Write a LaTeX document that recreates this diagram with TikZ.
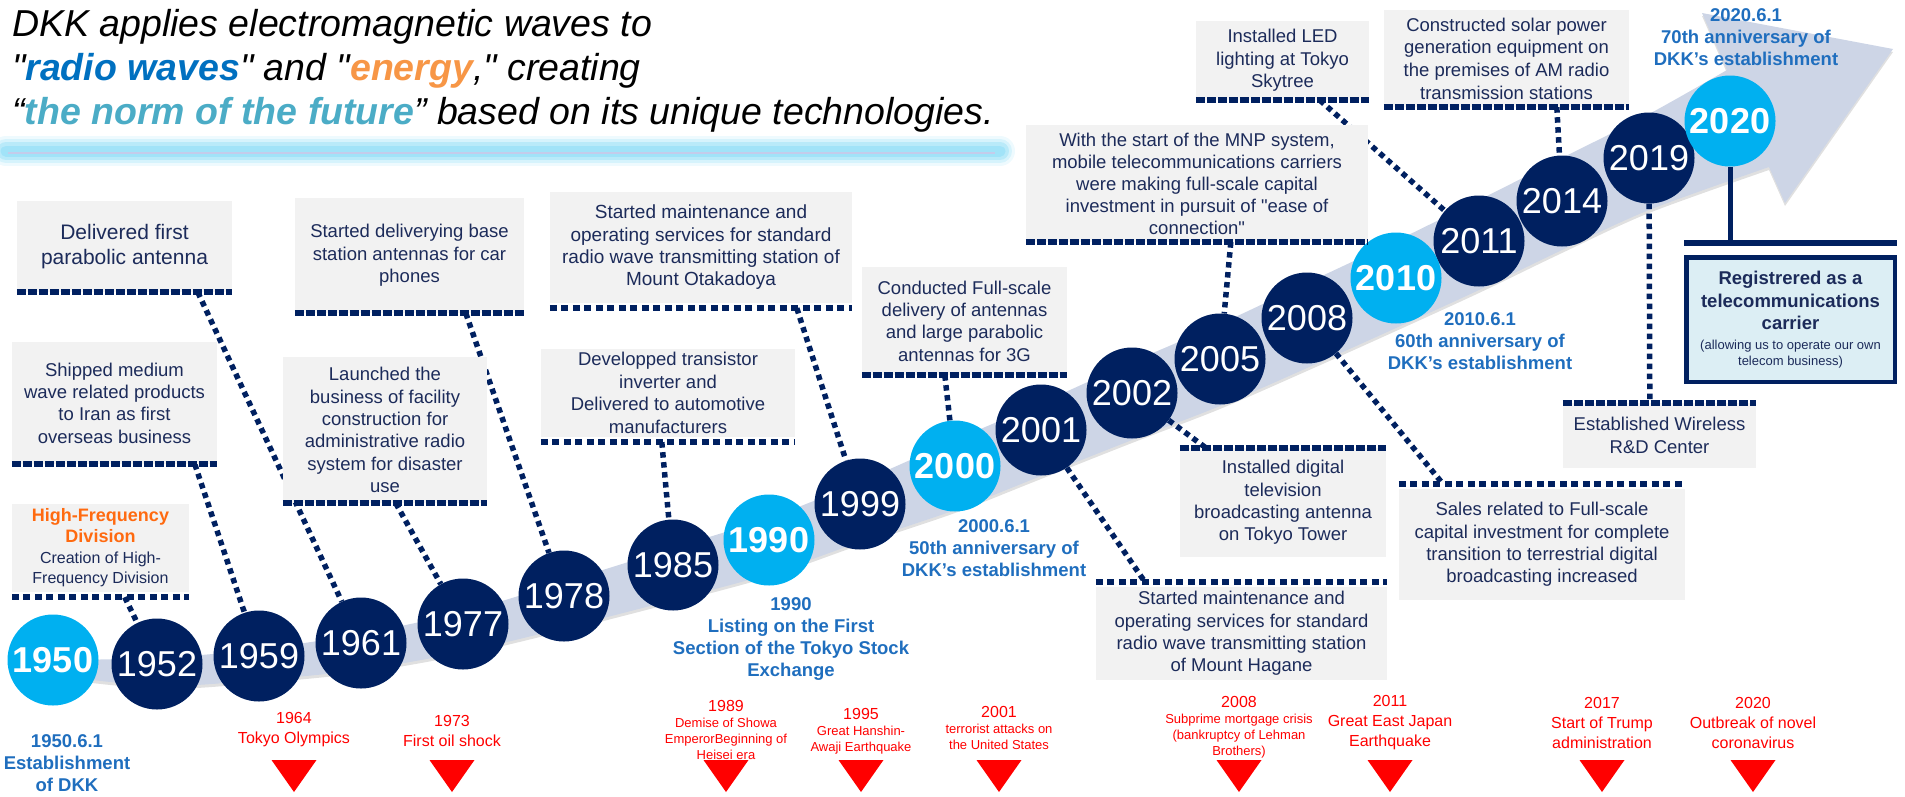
\documentclass[tikz,border=0pt]{standalone}
\usepackage{fontspec}
\setmainfont{Liberation Sans}
\usepackage{xcolor}

\definecolor{navy}{HTML}{002060}
\definecolor{sky}{HTML}{00B0F0}
\definecolor{boxgray}{HTML}{F2F2F2}
\definecolor{boxtext}{HTML}{1C2B5A}
\definecolor{bandgray}{HTML}{CDD5E6}
\definecolor{annblue}{HTML}{1F6EBE}
\definecolor{hforange}{HTML}{FF6A10}
\definecolor{titleblue}{HTML}{0070C0}
\definecolor{titleorange}{HTML}{F79646}
\definecolor{titleteal}{HTML}{4BACC6}
\definecolor{regfill}{HTML}{DCEEF4}
\definecolor{glow}{HTML}{8EDDF6}
\definecolor{glowline}{HTML}{C4CCEA}

\pgfdeclarelayer{back}
\pgfsetlayers{back,main}

% outline of the big curved arrow behind the years
\newcommand{\bandoutline}{plot[smooth] coordinates {(50,660) (160,658) (260,649) (360,634) (463,612) (564,582) (673,548) (769,518) (860,482) (955,440) (1041,403) (1132,362) (1220,324) (1307,283) (1396,241) (1479,200) (1562,158) (1649,114) (1727,70)}
  -- (1702,13) -- (1893,49) -- (1785,203)
  -- plot[smooth] coordinates {(1769,167) (1649,210) (1562,250) (1479,290) (1396,328) (1307,368) (1220,406) (1132,440) (1041,476) (955,510) (860,542) (769,574) (673,600) (564,628) (463,652) (360,670) (260,680) (160,686) (50,675)}
  -- cycle}

\tikzset{
  yearnode/.style={circle, fill=navy, minimum size=91pt, inner sep=0pt, text=white,
    font=\fontsize{36}{36}\selectfont},
  keyyear/.style={yearnode, fill=sky, font=\fontsize{36}{36}\selectfont\bfseries},
  card/.style={fill=boxgray, inner sep=0pt, align=center, text=boxtext,
    font=\fontsize{18.5}{22.3}\selectfont},
  denseline/.style={navy, line width=5.5pt, dash pattern=on 9pt off 2pt},
  dotline/.style={navy, line width=5.5pt, dash pattern=on 7pt off 4.5pt},
  link/.style={navy, line width=5.5pt, dash pattern=on 5.5pt off 4.5pt},
  anniv/.style={text=annblue, align=center, inner sep=0pt,
    font=\fontsize{18.5}{22}\selectfont\bfseries},
  bigevent/.style={text=red, align=center, inner sep=0pt, font=\fontsize{16}{20}\selectfont},
  smallevent/.style={text=red, align=center, inner sep=0pt, font=\fontsize{13}{16}\selectfont}
}

\begin{document}
\begin{tikzpicture}[x=1pt,y=-1pt]
  \useasboundingbox (0,0) rectangle (1905,796);

  % headline and its glowing underline
  \foreach \w/\o in {30/0.15,24/0.25,18/0.4,11/0.55}
    \draw[glow, line width=\w pt, opacity=\o, line cap=round] (6,151) -- (1000,151);
  \draw[glowline, line width=1.5pt] (8,153) -- (995,153);
  \node[anchor=north west, inner sep=0pt, align=left,
    font=\itshape\fontsize{37.5}{44}\selectfont] (headline) at (12,9)
    {DKK applies electromagnetic waves to\\
     \textquotedbl{\color{titleblue}\bfseries radio waves}\textquotedbl{} and \textquotedbl{\color{titleorange}\bfseries energy},\textquotedbl{} creating\\
     “{\color{titleteal}\bfseries the norm of the future}” based on its unique technologies.};

  % years on the arrow
  \foreach \yr/\px/\py in {1952/157/664,1959/259/656,1961/361/643,1977/463/624,1978/564/596,
      1985/673/565,1999/860/504,2001/1041/430,2002/1132/393,2005/1220/359,2008/1307/318,
      2011/1479/241,2014/1562/201,2019/1649/158}
    \node[yearnode] (y\yr) at (\px,\py) {\yr};
  \foreach \yr/\px/\py in {1950/53/660,1990/769/540,2000/955/466,2010/1396/278,2020/1730/121}
    \node[keyyear] (y\yr) at (\px,\py) {\yr};

  % milestone cards
  \node[card, minimum width=177pt, minimum height=88pt, font=\fontsize{16}{20.7}\selectfont] (hfdiv) at (100.5,548)
    {{\color{hforange}\fontsize{18}{18}\selectfont\bfseries High-Frequency}\\
     {\color{hforange}\fontsize{18}{18}\selectfont\bfseries Division}\\
     Creation of High-\\Frequency Division};
  \draw[dotline] ([yshift=-5pt]hfdiv.south west) -- ([yshift=-5pt]hfdiv.south east);

  \node[card, minimum width=205pt, minimum height=122pt] (shipped) at (114.5,403)
    {Shipped medium\\wave related products\\to Iran as first\\overseas business};
  \draw[denseline] (shipped.south west) -- (shipped.south east);

  \node[card, minimum width=215pt, minimum height=91pt, font=\fontsize{21}{25}\selectfont] (parabolic) at (124.5,246.5)
    {Delivered first\\parabolic antenna};
  \draw[denseline] (parabolic.south west) -- (parabolic.south east);

  \node[card, minimum width=229pt, minimum height=115pt] (carphone) at (409.5,255.5)
    {Started deliverying base\\station antennas for car\\phones};
  \draw[denseline] (carphone.south west) -- (carphone.south east);

  \node[card, minimum width=204pt, minimum height=146pt] (disaster) at (385,430)
    {Launched the\\business of facility\\construction for\\administrative radio\\system for disaster\\use};
  \draw[denseline] (disaster.south west) -- (disaster.south east);

  \node[card, minimum width=254pt, minimum height=88pt, font=\fontsize{18.5}{22.7}\selectfont] (inverter) at (668,393)
    {Developped transistor\\inverter and\\Delivered to automotive\\manufacturers};
  \draw[dotline] ([yshift=-5pt]inverter.south west) -- ([yshift=-5pt]inverter.south east);

  \node[card, minimum width=302pt, minimum height=111pt, font=\fontsize{19}{22.3}\selectfont] (otakadoya) at (701,247.5)
    {Started maintenance and\\operating services for standard\\radio wave transmitting station of\\Mount Otakadoya};
  \draw[dotline] ([yshift=-5pt]otakadoya.south west) -- ([yshift=-5pt]otakadoya.south east);

  \node[card, minimum width=205pt, minimum height=108pt] (fullscale) at (964.5,321)
    {Conducted Full-scale\\delivery of antennas\\and large parabolic\\antennas for 3G};
  \draw[denseline] (fullscale.south west) -- (fullscale.south east);

  \node[card, minimum width=342pt, minimum height=117pt, font=\fontsize{18.5}{22}\selectfont] (mnp) at (1197,183.5)
    {With the start of the MNP system,\\mobile telecommunications carriers\\were making full-scale capital\\investment in pursuit of \textquotedbl ease of\\connection\textquotedbl};
  \draw[denseline] (mnp.south west) -- (mnp.south east);

  \node[card, minimum width=173pt, minimum height=79pt] (skytree) at (1282.5,60.5)
    {Installed LED\\lighting at Tokyo\\Skytree};
  \draw[denseline] (skytree.south west) -- (skytree.south east);

  \node[card, minimum width=245pt, minimum height=97pt, font=\fontsize{18.5}{22.7}\selectfont] (solar) at (1506.5,58.5)
    {Constructed solar power\\generation equipment on\\the premises of AM radio\\transmission stations};
  \draw[denseline] (solar.south west) -- (solar.south east);

  \node[card, minimum width=206pt, minimum height=109pt] (tokyotower) at (1283,502.5)
    {Installed digital\\television\\broadcasting antenna\\on Tokyo Tower};
  \draw[denseline] (tokyotower.north west) -- (tokyotower.north east);

  \node[card, minimum width=286pt, minimum height=111pt] (terrestrial) at (1542,544.5)
    {Sales related to Full-scale\\capital investment for complete\\transition to terrestrial digital\\broadcasting increased};
  \draw[dotline] ([yshift=5pt]terrestrial.north west) -- ([yshift=5pt]terrestrial.north east);

  \node[card, minimum width=291pt, minimum height=93pt] (hagane) at (1241.5,633.5)
    {Started maintenance and\\operating services for standard\\radio wave transmitting station\\of Mount Hagane};
  \draw[dotline] ([yshift=5pt]hagane.north west) -- ([yshift=5pt]hagane.north east);

  \node[card, minimum width=193pt, minimum height=65pt] (wireless) at (1659.5,435.5)
    {Established Wireless\\R\&D Center};
  \draw[denseline] (wireless.north west) -- (wireless.north east);

  % carrier registration
  \node[draw=navy, line width=4.5pt, fill=regfill, minimum width=208.5pt, minimum height=124.5pt,
    inner sep=0pt, align=center, text=boxtext, font=\fontsize{18.5}{22.5}\selectfont\bfseries] (carrier) at (1790.5,319.5)
    {Registrered as a\\telecommunications\\carrier\\[-3pt]
     {\fontsize{13}{15}\selectfont\mdseries (allowing us to operate our own}\\[-6.5pt]
     {\fontsize{13}{15}\selectfont\mdseries telecom business)}};
  \draw[navy, line width=6pt] ([yshift=12pt]carrier.north west) coordinate (barl)
    -- ([yshift=12pt]carrier.north east);

  % anniversaries
  \node[anniv] (est1950) at (67,763) {1950.6.1\\Establishment\\of DKK};
  \node[anniv] (list1990) at (791,638.5) {1990\\Listing on the First\\Section of the Tokyo Stock\\Exchange};
  \node[anniv] (anniv2000) at (994,548.5) {2000.6.1\\50th anniversary of\\DKK’s establishment};
  \node[anniv] (anniv2010) at (1480,341) {2010.6.1\\60th anniversary of\\DKK’s establishment};
  \node[anniv] (anniv2020) at (1746,37.5) {2020.6.1\\70th anniversary of\\DKK’s establishment};

  % world events with red markers
  \foreach \nm/\ex/\ey/\kind/\eyr/\edesc in {
      e1964/294/729.5/bigevent/1964/Tokyo Olympics,
      e1973/452/731/bigevent/1973/First oil shock,
      e1989/726/730/smallevent/1989/Demise of Showa\\EmperorBeginning of\\Heisei era,
      e1995/861/731.5/smallevent/1995/Great Hanshin-\\Awaji Earthquake,
      e2001/999/728/smallevent/2001/terrorist attacks on\\the United States,
      e2008/1239/727/smallevent/2008/Subprime mortgage crisis\\(bankruptcy of Lehman\\Brothers),
      e2011/1390/722.5/bigevent/2011/Great East Japan\\Earthquake,
      e2017/1602/722.5/bigevent/2017/Start of Trump\\administration,
      e2020/1753/722.5/bigevent/2020/Outbreak of novel\\coronavirus} {
    \node[\kind] (\nm) at (\ex,\ey) {{\fontsize{16}{16}\selectfont\eyr}\\\edesc};
    \fill[red] (\ex-22.5,760) -- (\ex+22.5,760) -- (\ex,792) -- cycle;
  }

  \begin{pgfonlayer}{back}
    % arrow with a soft shadow
    \fill[black, opacity=0.12, yshift=-3pt] \bandoutline;
    \fill[bandgray] \bandoutline;
    % dotted connectors
    \draw[link] ([xshift=113pt,yshift=-5pt]hfdiv.south west) -- (y1952);
    \draw[link] ([xshift=183pt]shipped.south west) -- (y1959);
    \draw[link] ([xshift=181pt]parabolic.south west) -- (y1961);
    \draw[link] ([xshift=113pt]disaster.south west) -- (y1977);
    \draw[link] ([xshift=171pt]carphone.south west) -- (y1978);
    \draw[link] ([xshift=121pt,yshift=-5pt]inverter.south west) -- (y1985);
    \draw[link] ([xshift=247pt,yshift=-5pt]otakadoya.south west) -- (y1999);
    \draw[link] ([xshift=83pt]fullscale.south west) -- (y2000);
    \draw[link] ([xshift=205pt]mnp.south west) -- (y2005);
    \draw[link] ([xshift=124pt]skytree.south west) -- (y2011);
    \draw[link] ([xshift=173pt]solar.south west) -- (y2014);
    \draw[link] (y2001) -- ([xshift=49pt,yshift=5pt]hagane.north west);
    \draw[link] (y2002) -- ([xshift=26pt]tokyotower.north west);
    \draw[link] (y2008) -- ([xshift=44pt,yshift=5pt]terrestrial.north west);
    \draw[link] (y2019) -- ([xshift=87pt]wireless.north west);
    \draw[navy, line width=5pt] (y2020) -- (y2020 |- barl);
  \end{pgfonlayer}
\end{tikzpicture}
\end{document}
